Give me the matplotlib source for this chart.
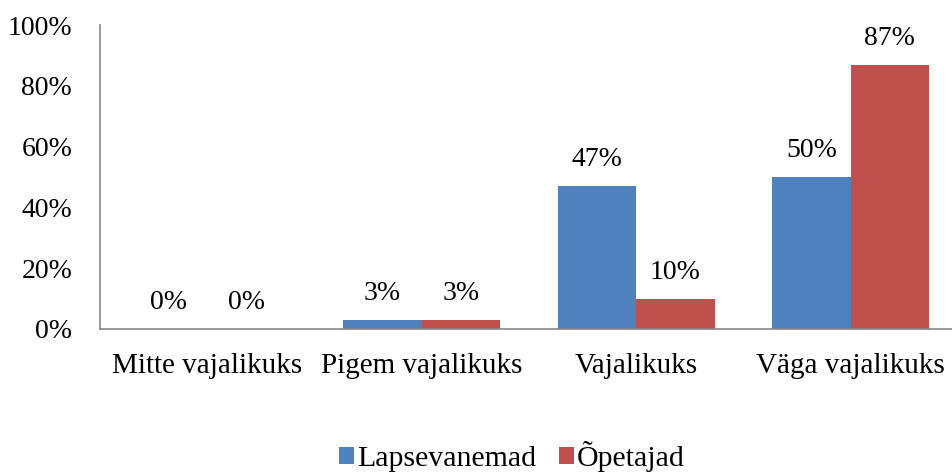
import numpy as np
import matplotlib.pyplot as plt

plt.rcParams['font.family'] = ['Liberation Serif', 'DejaVu Serif']

# Data
categories = ["Mitte vajalikuks", "Pigem vajalikuks", "Vajalikuks", "Väga vajalikuks"]
lapsevanemad = [0, 3, 47, 50]
opetajad = [0, 3, 10, 87]
series_names = ["Lapsevanemad", "Õpetajad"]
yticks = [0, 20, 40, 60, 80, 100]

blue = '#4F81BD'
red = '#C0504D'
axis_grey = '#868686'

fig = plt.figure(figsize=(9.53, 4.73), dpi=100)
ax = fig.add_axes([100 / 953, 144 / 473, 858 / 953, 304 / 473])

x = np.arange(len(categories))
w = 0.365
b1 = ax.bar(x - w / 2, lapsevanemad, width=w, color=blue, label=series_names[0])
b2 = ax.bar(x + w / 2, opetajad, width=w, color=red, label=series_names[1])

# value labels above bars
for bars, vals in ((b1, lapsevanemad), (b2, opetajad)):
    for rect, v in zip(bars, vals):
        ax.annotate(f"{v}%", (rect.get_x() + rect.get_width() / 2, v),
                    xytext=(0, 10), textcoords='offset points',
                    ha='center', va='bottom', fontsize=20)

ax.set_xlim(-0.5, len(categories) - 0.5)
ax.set_ylim(0, 100)
ax.set_yticks(yticks)
ax.set_yticklabels([f"{t}%" for t in yticks], fontsize=20)
ax.set_xticks(x)
ax.set_xticklabels(categories, fontsize=21)
ax.tick_params(axis='both', length=0)
ax.tick_params(axis='x', pad=17)
ax.tick_params(axis='y', pad=20)

for s in ['top', 'right']:
    ax.spines[s].set_visible(False)
for s in ['left', 'bottom']:
    ax.spines[s].set_color(axis_grey)
    ax.spines[s].set_linewidth(1.2)

fig.legend(loc='lower center', bbox_to_anchor=(0.537, -0.055), ncol=2, frameon=False,
           fontsize=21.5, handlelength=0.5, handleheight=0.5, handletextpad=0.12,
           columnspacing=0.75)

fig.savefig('out.png', dpi=100)
